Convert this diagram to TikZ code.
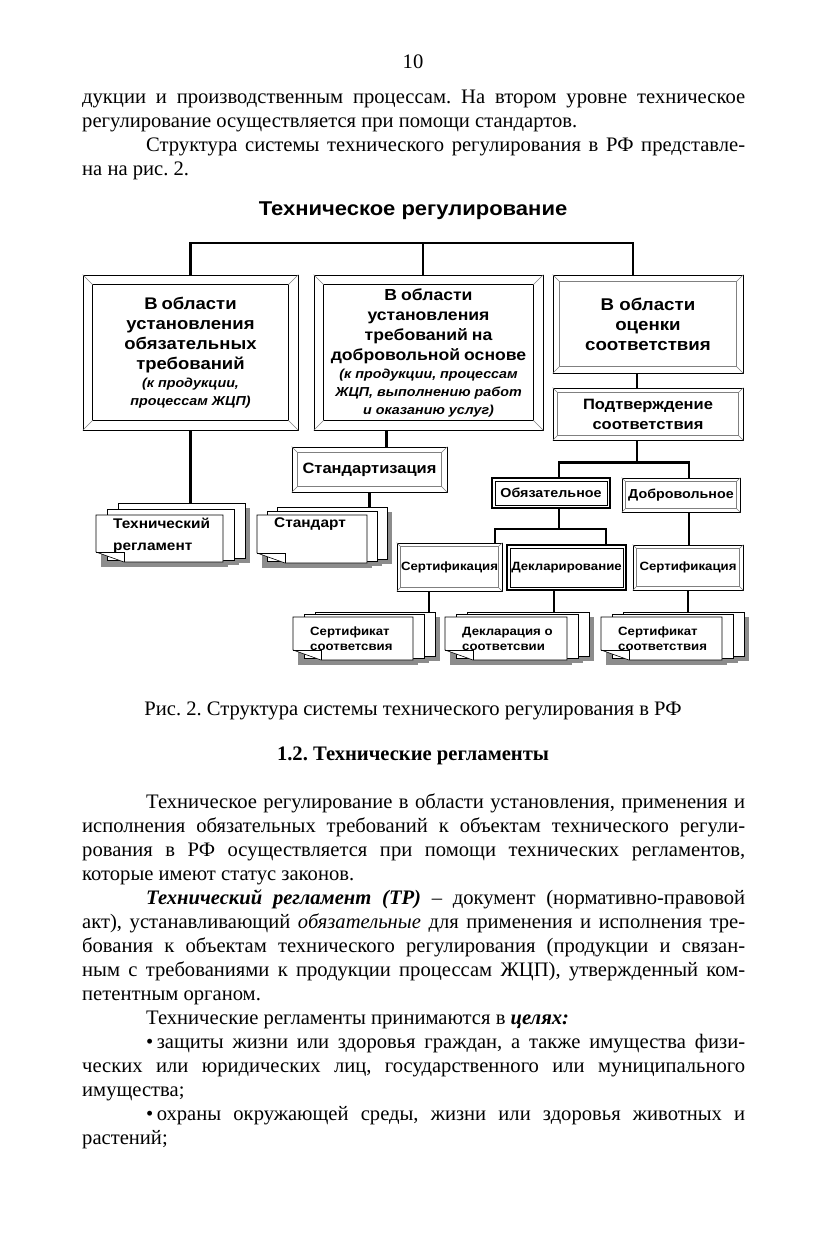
\documentclass[tikz,border=0pt]{standalone}
\usepackage{fontspec}
\setmainfont{Liberation Serif}
\newfontfamily\diagfont[FakeStretch=1.1]{Liberation Sans}
\usetikzlibrary{calc,positioning}

\tikzset{
  link/.style={line width=2.3pt},
  bevelbox/.style={draw, line width=0.7pt, inner sep=0pt, align=center,
                   font=\diagfont\bfseries\fontsize{12}{15}\selectfont},
  dblbox/.style={draw, line width=1.8pt, inner sep=0pt, align=center,
                 font=\diagfont\bfseries\fontsize{12}{15}\selectfont},
  bigfont/.style={font=\diagfont\bfseries\fontsize{17}{20}\selectfont},
  midfont/.style={font=\diagfont\bfseries\fontsize{15}{20}\selectfont},
  sheet/.style={draw, fill=white, line width=0.6pt},
  sheetshade/.style={fill=black!45},
  stacktext/.style={inner sep=0pt, align=left, font=\diagfont\bfseries\fontsize{14}{22}\selectfont},
  smallstack/.style={inner sep=0pt, align=left, yshift=-7pt, font=\diagfont\bfseries\fontsize{12}{15}\selectfont},
  body/.style={inner sep=0pt, text width=663pt, align=justify, font=\fontsize{20.6}{24}\selectfont},
}

% inner frame and corner bevels of a box
\newcommand\bevel[3][gray]{%
  \draw[#1] ($(#2.north west)+(#3,#3)$) rectangle ($(#2.south east)+(-#3,-#3)$);
  \draw[gray, line width=0.5pt] (#2.north west) -- ++(#3,#3) (#2.north east) -- ++(-#3,#3)
     (#2.south west) -- ++(#3,-#3) (#2.south east) -- ++(-#3,-#3);
}
\newcommand\dblframe[2]{%
  \draw[line width=0.6pt] ($(#1.north west)+(#2,#2)$) rectangle ($(#1.south east)+(-#2,-#2)$);
}
% stack of three sheets: name, x, y, width, height, dx, dy, text, text style
\newcommand\docstack[9]{%
  \foreach \k in {2,1,0}
    \fill[sheetshade] (#2+\k*#6+5,#3-\k*#7+5) rectangle (#2+\k*#6+#4+5,#3+#5-\k*2+5);
  \foreach \k in {2,1}
    \draw[sheet] (#2+\k*#6,#3-\k*#7) rectangle (#2+\k*#6+#4,#3+#5-\k*2);
  \draw[sheet] (#2,#3) -- (#2+#4,#3) -- (#2+#4,#3+#5) -- (#2+28,#3+#5) -- (#2,#3+#5-10) -- cycle;
  \draw[line width=0.6pt] (#2,#3+#5-10) -- (#2+28,#3+#5-10) -- (#2+28,#3+#5);
  \coordinate (#1-back) at (#2+2*#6+#4/2,#3-2*#7);
  \node[#9, anchor=north west] (#1) at (#2+17,#3+3) {#8};
}
\newcommand\bodysetup{\frenchspacing\tolerance=10000\relax\hyphenpenalty=10000\relax\exhyphenpenalty=10000\relax}

\begin{document}
\begin{tikzpicture}[x=1pt, y=-1pt]
\useasboundingbox (0,0) rectangle (828,1240);
\fill[white] (0,0) rectangle (828,1240);

% page text above the figure
\node[anchor=base, font=\fontsize{20.6}{24}\selectfont] (pagenum) at (413,68) {10};
\node[body, anchor=base west] (introtext) at (82,103) {\bodysetup\noindent
дукции и производственным процессам. На втором уровне техническое\linebreak
регулирование осуществляется при помощи стандартов.\par
\setlength{\parindent}{64pt}\indent
Структура системы технического регулирования в РФ представле-\linebreak
на на рис. 2.};

% figure
\node[font=\diagfont\bfseries\fontsize{20}{24}\selectfont] (title) at (413,211) {Техническое регулирование};

\node[bevelbox, minimum width=215pt, minimum height=155pt, text width=200pt] (areaMand) at (190.5,352.5)
  {{\fontsize{16.8}{20}\selectfont В области\\установления\\обязательных\\требований\par}
   {\itshape\fontsize{13}{18}\selectfont (к продукции,\\процессам ЖЦП)\par}};
\bevel[line width=1.6pt]{areaMand}{10}
\node[bevelbox, minimum width=229pt, minimum height=155pt, text width=215pt] (areaVol) at (428.5,352.5)
  {{\fontsize{16}{20}\selectfont В области\\установления\\требований на\\добровольной основе\par}
   {\itshape\fontsize{13}{18}\selectfont (к продукции, процессам\\ЖЦП, выполнению работ\\и оказанию услуг)\par}};
\bevel[line width=1.6pt]{areaVol}{10}
\node[bevelbox, bigfont, minimum width=190pt, minimum height=98pt] (areaConf) at (648,324)
  {В области\\оценки\\соответствия};
\bevel{areaConf}{7}
\node[bevelbox, midfont, minimum width=190pt, minimum height=52pt] (confirm) at (648,414)
  {Подтверждение\\соответствия};
\bevel{confirm}{5}
\node[bevelbox, midfont, minimum width=155pt, minimum height=45pt] (stdz) at (369.5,469.5)
  {Стандартизация};
\bevel{stdz}{6}
\node[dblbox, font=\diagfont\bfseries\fontsize{13}{15}\selectfont, minimum width=118pt, minimum height=30pt] (mand) at (551,493) {Обязательное};
\dblframe{mand}{4}
\node[bevelbox, font=\diagfont\bfseries\fontsize{13}{15}\selectfont, minimum width=118pt, minimum height=34pt] (vol) at (681,495) {Добровольное};
\bevel{vol}{4}
\node[bevelbox, minimum width=105pt, minimum height=48pt] (certA) at (449.5,567) {Сертификация};
\bevel{certA}{4}
\node[dblbox, minimum width=119pt, minimum height=45pt] (decl) at (566.5,567.5) {Декларирование};
\dblframe{decl}{4}
\node[bevelbox, minimum width=110pt, minimum height=45pt] (certB) at (688,567.5) {Сертификация};
\bevel{certB}{4}

\docstack{regl}{96}{515}{127}{47}{11}{6}{Технический\\регламент}{stacktext}
\docstack{std}{257}{515}{110}{48}{10}{4}{Стандарт}{stacktext}
\docstack{certDocA}{293}{617}{120}{43}{11}{2.5}{Сертификат\\соответсвия}{smallstack}
\docstack{declDoc}{445}{617}{122}{43}{11}{2.5}{Декларация о\\соответсвии}{smallstack}
\docstack{certDocB}{601}{617}{121}{43}{11}{2.5}{Сертификат\\соответствия}{smallstack}

% connectors
\coordinate (bar) at (423,243);
\draw[link] (areaMand.north) |- (bar) -| ([xshift=-15pt]areaConf.north);
\draw[link] (bar) -- (bar |- areaVol.north);
\draw[link] (areaMand.south) -- (areaMand.south |- regl-back);
\draw[link] ([xshift=17pt]stdz.north) -- ([xshift=17pt]stdz.north |- areaVol.south);
\draw[link] (stdz.south) -- (stdz.south |- std-back);
\draw[link] ([xshift=-11pt]areaConf.south) -- ([xshift=-11pt]confirm.north);
\draw[link] ([xshift=-11pt]confirm.south) -- ++(0,22) coordinate (forkConf);
\draw[link] ([xshift=8pt]mand.north) |- (forkConf) -| ([xshift=8pt]vol.north);
\draw[link] ([xshift=8pt]mand.south) -- ++(0,20) coordinate (forkMand);
\draw[link] ([xshift=45.5pt]certA.north) |- (forkMand) -| ([xshift=39.5pt]decl.north);
\draw[link] ([xshift=8pt]vol.south) -- ([xshift=8pt]vol.south |- certB.north);
\draw[link] ([xshift=-20.5pt]certA.south) -- ([xshift=-20.5pt]certA.south |- certDocA-back);
\draw[link] ([xshift=-12.5pt]decl.south) -- ([xshift=-12.5pt]decl.south |- declDoc-back);
\draw[link] (certB.south) -- (certB.south |- certDocB-back);

% page text below the figure
\node[anchor=base, font=\fontsize{20.6}{24}\selectfont] (caption) at (413,715)
  {\frenchspacing Рис. 2. Структура системы технического регулирования в РФ};
\node[anchor=base, font=\bfseries\fontsize{20.6}{24}\selectfont] (heading) at (413,760)
  {\frenchspacing 1.2. Технические регламенты};
\node[body, anchor=base west] (maintext) at (82,808) {\bodysetup\setlength{\parindent}{64pt}\indent
Техническое регулирование в области установления, применения и\linebreak
исполнения обязательных требований к объектам технического регули-\linebreak
рования в РФ осуществляется при помощи технических регламентов,\linebreak
которые имеют статус законов.\par
\textbf{\textit{Технический регламент (ТР)}} – документ (нормативно-правовой\linebreak
акт), устанавливающий \textit{обязательные} для применения и исполнения тре-\linebreak
бования к объектам технического регулирования (продукции и связан-\linebreak
ным с требованиями к продукции процессам ЖЦП), утвержденный ком-\linebreak
петентным органом.\par
Технические регламенты принимаются в \textbf{\textit{целях:}}\par
•\,защиты жизни или здоровья граждан, а также имущества физи-\linebreak
ческих или юридических лиц, государственного или муниципального\linebreak
имущества;\par
•\,охраны окружающей среды, жизни или здоровья животных и\linebreak
растений;};
\end{tikzpicture}
\end{document}
